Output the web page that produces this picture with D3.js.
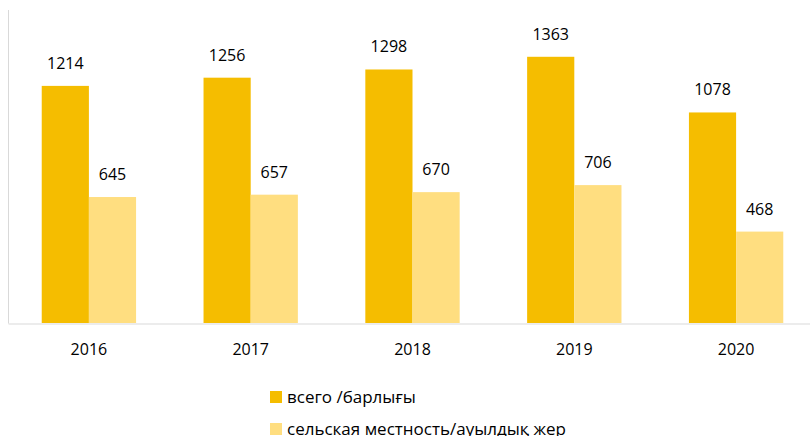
<!DOCTYPE html>
<html>
<head>
<meta charset="utf-8">
<script src="https://cdn.jsdelivr.net/npm/d3@7"></script>
<style>
  body { margin: 0; background: #fff; }
  text { font-family: "Open Sans", "Noto Sans", sans-serif; fill: #000; }
</style>
</head>
<body>
<div id="chart"></div>
<script>
// data
const years = ["2016", "2017", "2018", "2019", "2020"];
const total = [1214, 1256, 1298, 1363, 1078];
const rural = [645, 657, 670, 706, 468];
const seriesNames = ["всего /барлығы", "сельская местность/ауылдық жер"];
const seriesColors = ["#F5BD00", "#FFDE80"];

const W = 810, H = 436;
const svg = d3.select("#chart").append("svg")
    .attr("width", W)
    .attr("height", H);

// scales
const x = d3.scaleBand()
    .domain(years)
    .range([8, 817])
    .paddingInner(0)
    .paddingOuter(0);

const x1 = d3.scaleBand()
    .domain([0, 1])
    .range([0, x.bandwidth()])
    .paddingInner(0)
    .paddingOuter(0.715);

const y = d3.scaleLinear()
    .domain([0, 1600])
    .range([323, 10.5]);

const series = [total, rural];

// bars
series.forEach((vals, si) => {
  svg.append("g").selectAll("rect")
    .data(vals)
    .join("rect")
      .attr("x", (d, i) => x(years[i]) + x1(si))
      .attr("y", d => y(d))
      .attr("width", x1.bandwidth())
      .attr("height", d => y(0) - y(d))
      .attr("fill", seriesColors[si]);

  svg.append("g").selectAll("text")
    .data(vals)
    .join("text")
      .attr("x", (d, i) => x(years[i]) + x1(si) + x1.bandwidth() / 2)
      .attr("y", d => y(d) - 17)
      .attr("text-anchor", "middle")
      .style("font-size", "16px")
      .text(d => d);
});

// axes
svg.append("line")
    .attr("x1", 8.5).attr("x2", 8.5)
    .attr("y1", 10).attr("y2", 323.5)
    .attr("stroke", "#d9d9d9");

const xAxis = svg.append("g")
    .attr("transform", "translate(0,323.5)")
    .call(d3.axisBottom(x).tickSize(0).tickPadding(20));
xAxis.select(".domain").attr("stroke", "#d9d9d9");
xAxis.selectAll("text")
    .style("font-size", "16px")
    .attr("font-family", null);

// legend
const legend = svg.append("g").attr("transform", "translate(270,391)");
seriesNames.forEach((name, i) => {
  const g = legend.append("g").attr("transform", `translate(0,${i * 32})`);
  g.append("rect")
      .attr("width", 12).attr("height", 12)
      .attr("fill", seriesColors[i]);
  g.append("text")
      .attr("x", 17).attr("y", 12)
      .style("font-size", "17px")
      .text(name);
});
</script>
</body>
</html>
